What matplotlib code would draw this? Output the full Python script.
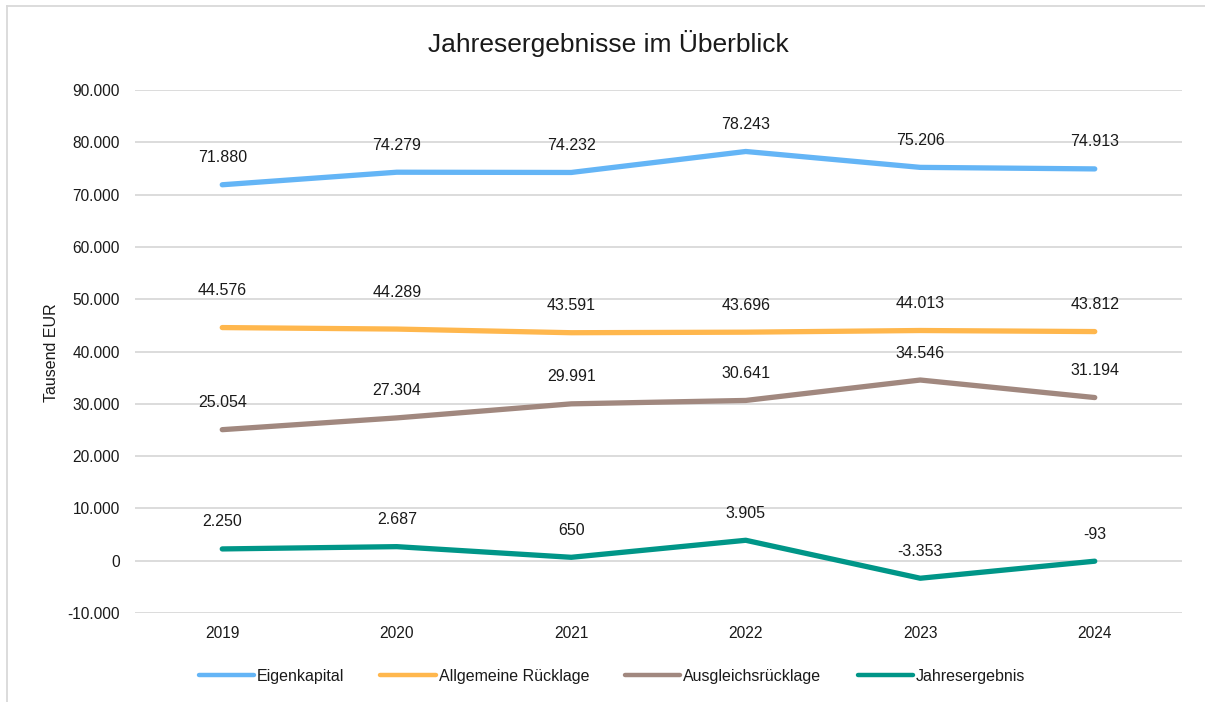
import matplotlib
matplotlib.use("Agg")
import matplotlib.pyplot as plt
from matplotlib.lines import Line2D

plt.rcParams['font.family'] = ['Liberation Sans', 'DejaVu Sans']

years = ["2019", "2020", "2021", "2022", "2023", "2024"]
eigenkapital = [71880, 74279, 74232, 78243, 75206, 74913]
allgemeine_ruecklage = [44576, 44289, 43591, 43696, 44013, 43812]
ausgleichsruecklage = [25054, 27304, 29991, 30641, 34546, 31194]
jahresergebnis = [2250, 2687, 650, 3905, -3353, -93]
series_names = ["Eigenkapital", "Allgemeine Rücklage", "Ausgleichsrücklage", "Jahresergebnis"]
yticks = [-10000, 0, 10000, 20000, 30000, 40000, 50000, 60000, 70000, 80000, 90000]

colors = ["#64B5F6", "#FFB74D", "#A1887F", "#009688"]
TXT = "#1a1a1a"

def fmt(v):
    s = f"{abs(v):,}".replace(",", ".")
    return ("-" if v < 0 else "") + s

W, H = 1205, 702
fig = plt.figure(figsize=(W / 100, H / 100), dpi=100)
fig.patch.set_facecolor("white")
# chart frame: only left and top edges visible in the reference
fig.add_artist(Line2D([6.5 / W, 6.5 / W], [0, 1 - 6 / H], transform=fig.transFigure,
                      color="#D9D9D9", linewidth=1.3))
fig.add_artist(Line2D([6.5 / W, 1], [1 - 6 / H, 1 - 6 / H], transform=fig.transFigure,
                      color="#D9D9D9", linewidth=1.3))

ax = fig.add_axes([135 / W, 1 - 613 / H, 1047 / W, 523 / H])

x = list(range(len(years)))
all_series = [eigenkapital, allgemeine_ruecklage, ausgleichsruecklage, jahresergebnis]
extra = {(1, 0): 10, (1, 1): 10}
for si, (vals, name, c) in enumerate(zip(all_series, series_names, colors)):
    ax.plot(x, vals, color=c, linewidth=3.8, solid_capstyle="round", label=name, zorder=3)
    for i, v in enumerate(vals):
        off = 27 + extra.get((si, i), 0)
        ax.annotate(fmt(v), (i, v), xytext=(0, off * 0.72), textcoords="offset points",
                    ha="center", va="center", fontsize=11.5, color=TXT)

ax.set_xlim(-0.5, 5.5)
ax.set_ylim(-10000, 90000)
ax.set_xticks(x)
ax.set_xticklabels(years)
ax.set_yticks(yticks)
ax.set_yticklabels([fmt(v) for v in yticks])
ax.tick_params(axis="both", length=0, labelsize=11.2, labelcolor=TXT)
ax.tick_params(axis="x", pad=9)
ax.tick_params(axis="y", pad=11)
for s in ax.spines.values():
    s.set_visible(False)
ax.grid(axis="y", color="#D9D9D9", linewidth=1.3)
ax.set_axisbelow(True)
ax.set_ylabel("Tausend EUR", fontsize=11.5, color=TXT)
ax.yaxis.set_label_coords(-(135 - 51) / 1047, 0.5 - (351 - 350) / 523)
ax.yaxis.label.set_va("center")

fig.text(608 / W, 1 - 52 / H, "Jahresergebnisse im Überblick", ha="center", va="baseline",
         fontsize=19, color=TXT)

leg = fig.legend(loc="center", bbox_to_anchor=(612 / W, 1 - 676 / H), ncol=4, frameon=False,
                 fontsize=11.5, handlelength=3.45, handletextpad=0.2, columnspacing=2.25)
for t in leg.get_texts():
    t.set_color(TXT)
for h in leg.legend_handles:
    h.set_linewidth(3.2)

fig.savefig("out.png", dpi=100)
